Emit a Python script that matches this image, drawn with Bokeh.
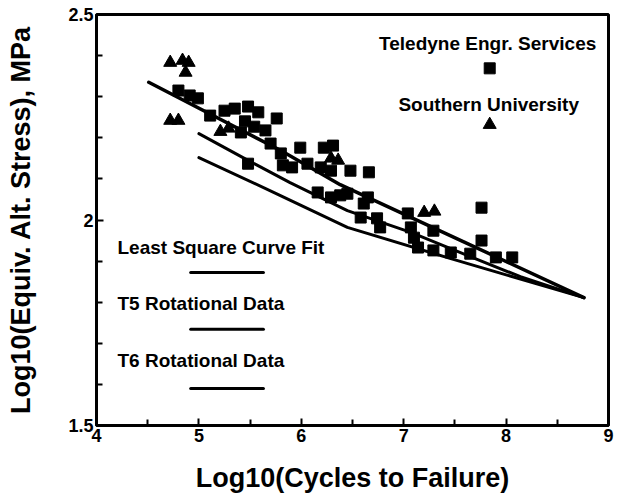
from bokeh.plotting import figure
from bokeh.models import FixedTicker, Range1d, Label
from bokeh.core.properties import value
from bokeh.embed import file_html
from bokeh.resources import INLINE

# ---------------- data ----------------
teledyne_x = [4.80, 4.91, 4.99, 5.11, 5.25, 5.35, 5.48, 5.58, 5.76, 5.45, 5.54, 5.65,
              5.41, 5.70, 5.80, 5.99, 6.22, 6.31, 5.82, 5.91, 6.06, 6.19, 6.29, 6.48,
              6.66, 5.48, 6.16, 6.29, 6.38, 6.45, 6.65, 6.61, 6.58, 6.74, 6.77, 7.04,
              7.07, 7.10, 7.29, 7.14, 7.29, 7.46, 7.65, 7.76, 7.76, 7.90, 8.06]
teledyne_y = [2.315, 2.303, 2.296, 2.254, 2.266, 2.271, 2.276, 2.262, 2.247, 2.240, 2.227, 2.218,
              2.213, 2.186, 2.162, 2.176, 2.176, 2.181, 2.133, 2.128, 2.137, 2.128, 2.120, 2.120,
              2.116, 2.137, 2.067, 2.055, 2.060, 2.064, 2.055, 2.040, 2.006, 2.004, 1.982, 2.016,
              1.982, 1.957, 1.974, 1.933, 1.926, 1.921, 1.918, 2.030, 1.950, 1.909, 1.909]

southern_x = [4.72, 4.84, 4.90, 4.87, 4.72, 4.80, 5.21, 5.29, 6.29, 6.36, 7.20, 7.30]
southern_y = [2.383, 2.388, 2.383, 2.359, 2.242, 2.242, 2.215, 2.223, 2.150, 2.145, 2.018, 2.021]

lsq_x = [4.51, 5.80, 6.38, 7.56, 8.76]
lsq_y = [2.335, 2.169, 2.086, 1.950, 1.811]

t5_x = [5.00, 5.48, 5.89, 6.45, 7.07, 7.65, 8.14, 8.76]
t5_y = [2.210, 2.145, 2.091, 2.023, 1.970, 1.911, 1.862, 1.811]

t6_x = [5.00, 5.75, 6.45, 7.46, 8.76]
t6_y = [2.152, 2.065, 1.982, 1.906, 1.811]

x_major = [4, 5, 6, 7, 8, 9]
x_minor = [4.5, 5.5, 6.5, 7.5, 8.5]
y_major = [1.5, 2, 2.5]
y_minor = [1.6, 1.7, 1.8, 1.9, 2.1, 2.2, 2.3, 2.4]
y_labels = {1.5: "1.5", 2: "2", 2.5: "2.5"}

legend_texts = ["Teledyne Engr. Services", "Southern University",
                "Least Square Curve Fit", "T5 Rotational Data", "T6 Rotational Data"]

# ---------------- layout ----------------
FONT = "Liberation Sans"

p = figure(width=616, height=495, x_range=Range1d(4, 9), y_range=Range1d(1.5, 2.5),
           output_backend="svg", toolbar_location=None,
           min_border_left=96, min_border_right=8, min_border_top=14, min_border_bottom=70)
p.background_fill_color = "white"
p.border_fill_color = "white"
p.grid.visible = False
p.outline_line_color = "black"
p.outline_line_width = 3

p.xaxis.ticker = FixedTicker(ticks=x_major, minor_ticks=x_minor)
p.yaxis.ticker = FixedTicker(ticks=y_major, minor_ticks=y_minor)
p.yaxis.major_label_overrides = y_labels

for ax in (p.xaxis, p.yaxis):
    ax.axis_line_color = "black"
    ax.axis_line_width = 3
    ax.major_tick_in = 7
    ax.major_tick_out = 0
    ax.minor_tick_in = 6
    ax.minor_tick_out = 0
    ax.major_tick_line_width = 2
    ax.minor_tick_line_width = 2
    ax.major_tick_line_color = "black"
    ax.minor_tick_line_color = "black"
    ax.major_label_text_font = FONT
    ax.major_label_text_font_style = "bold"
    ax.major_label_text_font_size = "18px"
    ax.major_label_text_color = "black"
    ax.axis_label_text_font = FONT
    ax.axis_label_text_font_style = "bold"
    ax.axis_label_text_color = "black"

p.xaxis.axis_label = "Log10(Cycles to Failure)"
p.xaxis.axis_label_text_font_size = "27px"
p.xaxis.major_label_standoff = 3
p.xaxis.axis_label_standoff = 18
p.yaxis.axis_label = "Log10(Equiv. Alt. Stress), MPa"
p.yaxis.axis_label_text_font_size = "27px"
p.yaxis.major_label_standoff = 3
p.yaxis.axis_label_standoff = 29

# curves
p.line(lsq_x, lsq_y, line_color="black", line_width=3.5, line_cap="round")
p.line(t5_x, t5_y, line_color="black", line_width=3, line_cap="round")
p.line(t6_x, t6_y, line_color="black", line_width=3, line_cap="round")

# points
p.scatter(teledyne_x, teledyne_y, marker="square", size=11, fill_color="black", line_color="black")
p.scatter(southern_x, southern_y, marker="triangle", size=13, fill_color="black", line_color="black")

# custom legend (placement in data space)
lab_kw = dict(text_font=FONT, text_font_style="bold", text_font_size="19px", text_color="black")
p.add_layout(Label(x=7.82, y=2.429, text=legend_texts[0], text_align="center",
                   text_baseline="middle", **lab_kw))
p.scatter([7.84], [2.369], marker="square", size=11, fill_color="black", line_color="black")
p.add_layout(Label(x=7.83, y=2.281, text=legend_texts[1], text_align="center",
                   text_baseline="middle", **lab_kw))
p.scatter([7.84], [2.232], marker="triangle", size=13, fill_color="black", line_color="black")

for txt, ty, ly in zip(legend_texts[2:], [1.933, 1.797, 1.658], [1.872, 1.734, 1.590]):
    p.add_layout(Label(x=4.205, y=ty, text=txt, text_align="left",
                       text_baseline="middle", **lab_kw))
    p.line([4.92, 5.63], [ly, ly], line_color="black", line_width=3, line_cap="round")

open("out.html", "w").write(file_html(p, INLINE))
